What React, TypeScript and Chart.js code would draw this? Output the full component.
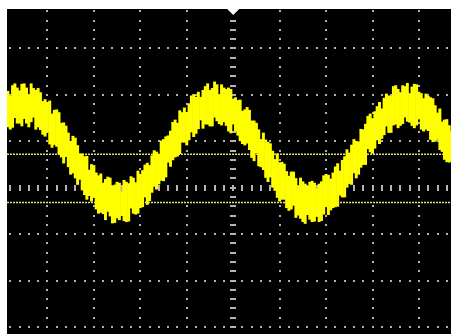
import React, { useEffect, useRef } from "react";
import { Chart, registerables } from "chart.js";

Chart.register(...registerables);

// Oscilloscope screen units: 100 units = 1 division
const timeStart = -485;
const timeStep = 10;

// Upper and lower extent of the noisy trace at each sample
const traceUpper = [
  208, 220, 215, 223, 215, 224, 210, 205, 190, 187, 167, 162, 140, 118, 111, 91,
  73, 68, 50, 32, 30, 18, 21, 6, 10, 16, 9, 21, 36, 37, 53, 69,
  77, 101, 110, 122, 146, 166, 172, 181, 201, 206, 210, 224, 214, 222, 222, 212,
  212, 194, 189, 168, 167, 144, 125, 118, 98, 79, 73, 55, 35, 34, 20, 21,
  8, 12, 10, 8, 26, 27, 32, 52, 59, 82, 92, 100, 126, 137, 159, 164,
  184, 193, 198, 218, 212, 220, 225, 217, 222, 203, 202, 194, 177, 170, 146, 134,
];
const traceLower = [
  131, 130, 139, 133, 139, 142, 126, 125, 111, 94, 93, 73, 53, 45, 32, 7,
  -5, -25, -29, -46, -53, -69, -61, -75, -69, -71, -72, -55, -55, -41, -36, -10,
  -3, 16, 23, 46, 66, 73, 98, 103, 110, 127, 128, 137, 133, 144, 135, 134,
  118, 122, 101, 92, 82, 58, 47, 39, 13, 1, -21, -25, -43, -46, -64, -66,
  -77, -68, -72, -73, -57, -58, -43, -40, -20, 1, 7, 21, 44, 50, 77, 85,
  95, 114, 119, 135, 129, 138, 143, 134, 135, 126, 126, 104, 100, 82, 61, 55,
];
// Samples half a step later (spikes and notches between the main samples)
const traceUpperMid = [
  197, 224, 209, 224, 200, 214, 214, 186, 184, 159, 168, 139, 133, 100, 107, 73,
  67, 38, 48, 26, 10, 23, 3, 12, -8, 12, 24, 11, 29, 49, 48, 80,
  72, 104, 112, 141, 139, 162, 162, 198, 195, 195, 218, 210, 228, 201, 215, 215,
  191, 188, 165, 173, 144, 139, 104, 103, 95, 61, 54, 51, 25, 34, 2, 13,
  3, 14, -3, 13, 29, 19, 45, 36, 67, 75, 104, 99, 125, 154, 149, 175,
  170, 202, 197, 220, 205, 218, 203, 223, 206, 192, 197, 192, 161, 142, 147, 122,
];
const traceLowerMid = [
  126, 151, 139, 149, 131, 152, 131, 115, 120, 87, 89, 66, 67, 29, 21, 18,
  -15, -17, -20, -55, -56, -51, -76, -65, -60, -73, -44, -57, -43, -20, -28, 3,
  8, 15, 55, 60, 68, 98, 92, 120, 117, 146, 137, 133, 152, 138, 142, 122,
  137, 113, 95, 96, 65, 75, 45, 22, 23, -6, -29, -25, -49, -38, -59, -73,
  -58, -73, -62, -71, -41, -48, -41, -16, -20, 9, 32, 29, 50, 84, 74, 103,
  106, 133, 119, 137, 134, 152, 141, 129, 148, 122, 123, 99, 104, 78, 56, 57,
];

const cursorLevels = [72, -32];

const xMin = -487;
const xMax = 469;
const yMin = -315;
const yMax = 385;
const divLinesX = [-400, -300, -200, -100, 0, 100, 200, 300, 400];
const divLinesY = [-300, -200, -100, 0, 100, 200, 300];
const minorStep = 20;

const graticulePlugin = {
  id: "graticule",
  beforeDraw(chart: any) {
    const { ctx, chartArea } = chart;
    ctx.save();
    ctx.fillStyle = "#000000";
    ctx.fillRect(chartArea.left, chartArea.top, chartArea.right - chartArea.left, chartArea.bottom - chartArea.top);
    ctx.restore();
  },
  beforeDatasetsDraw(chart: any) {
    const { ctx } = chart;
    const xs = chart.scales.x;
    const ys = chart.scales.y;
    ctx.save();
    ctx.fillStyle = "#b4b4b4";
    for (const v of divLinesX) {
      const px = Math.round(xs.getPixelForValue(v));
      for (let t = Math.ceil(yMin / minorStep) * minorStep; t <= yMax; t += minorStep) {
        const py = Math.round(ys.getPixelForValue(t));
        if (v === 0) ctx.fillRect(px - 3, py - 1, 6, 2);
        else ctx.fillRect(px - 1, py - 1, 2, 2);
      }
    }
    for (const v of divLinesY) {
      const py = Math.round(ys.getPixelForValue(v));
      for (let t = Math.ceil(xMin / minorStep) * minorStep; t <= xMax; t += minorStep) {
        const px = Math.round(xs.getPixelForValue(t));
        if (v === 0) ctx.fillRect(px - 1, py - 3, 2, 6);
        else ctx.fillRect(px - 1, py - 1, 2, 2);
      }
    }
    ctx.restore();
  },
  afterDraw(chart: any) {
    const { ctx, chartArea } = chart;
    const cx = chart.scales.x.getPixelForValue(0);
    ctx.save();
    ctx.fillStyle = "#ffffff";
    ctx.beginPath();
    ctx.moveTo(cx - 6, chartArea.top);
    ctx.lineTo(cx + 6, chartArea.top);
    ctx.lineTo(cx, chartArea.top + 6);
    ctx.closePath();
    ctx.fill();
    ctx.restore();
  },
};

export default function App() {
  const ref = useRef<HTMLCanvasElement | null>(null);
  useEffect(() => {
    if (!ref.current) return;
    const traceData: any[] = [];
    traceUpper.forEach((hi, i) => {
      traceData.push({ x: timeStart + i * timeStep, y: [traceLower[i], hi] });
      traceData.push({ x: timeStart + i * timeStep + timeStep / 2, y: [traceLowerMid[i], traceUpperMid[i]] });
    });
    const cursorSets = cursorLevels.map((lv) => ({
      type: "line" as const,
      data: [
        { x: xMin, y: lv },
        { x: xMax, y: lv },
      ],
      borderColor: "#e4e084",
      borderWidth: 1.5,
      borderDash: [2, 1],
      pointRadius: 0,
      order: 2,
    }));
    const chart = new Chart(ref.current, {
      type: "bar",
      data: {
        datasets: [
          {
            type: "bar",
            data: traceData,
            backgroundColor: "#ffff00",
            borderWidth: 0,
            barPercentage: 1,
            categoryPercentage: 1,
            order: 1,
          } as any,
          ...(cursorSets as any),
        ],
      },
      options: {
        animation: false,
        responsive: false,
        devicePixelRatio: 1,
        layout: { padding: 0 },
        plugins: { legend: { display: false }, tooltip: { enabled: false } },
        scales: {
          x: { type: "linear", min: xMin, max: xMax, offset: false, display: false },
          y: { type: "linear", min: yMin, max: yMax, display: false },
        },
      },
      plugins: [graticulePlugin],
    });
    return () => chart.destroy();
  }, []);
  return (
    <div style={{ position: "absolute", left: 7, top: 9, width: 444, height: 325 }}>
      <canvas ref={ref} width={444} height={325} style={{ display: "block", width: 444, height: 325 }} />
    </div>
  );
}
